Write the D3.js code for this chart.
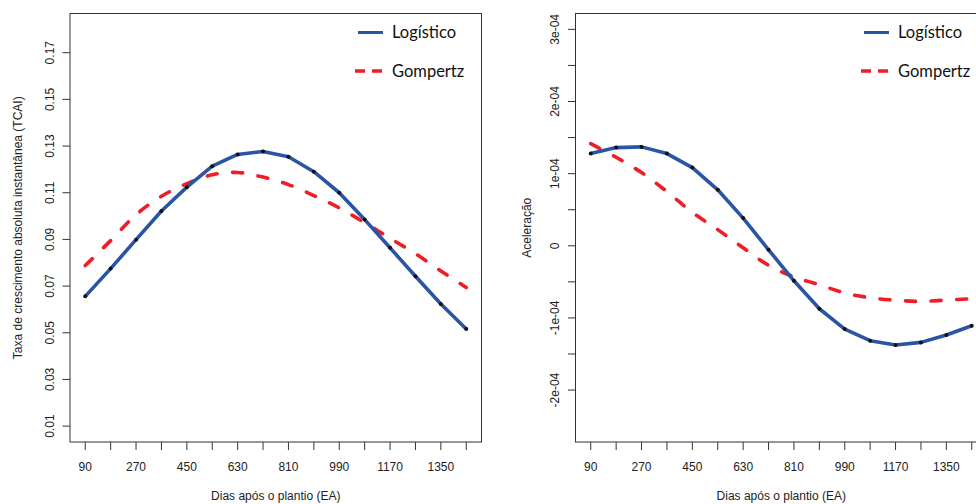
<!DOCTYPE html>
<html>
<head>
<meta charset="utf-8">
<script src="https://cdn.jsdelivr.net/npm/d3@7"></script>
<style>
  body { margin: 0; background: #fff; overflow: hidden; }
  svg { display: block; }
  .tick-label, .axis-title { font-family: "Liberation Sans", Arial, sans-serif; font-size: 12px; fill: #222; }
  .legend-label { font-family: Lato, "Open Sans", sans-serif; font-size: 16.5px; fill: #111; }
</style>
</head>
<body>
<div id="chart"></div>
<script>
// days after planting
const days = [90, 180, 270, 360, 450, 540, 630, 720, 810, 900, 990, 1080, 1170, 1260, 1350, 1440];
const xTickLabels = [90, 270, 450, 630, 810, 990, 1170, 1350];

// TCAI (left panel)
const tcaiLogistico = [0.0656, 0.0775, 0.0899, 0.1022, 0.1124, 0.1214, 0.1264, 0.1277,
                       0.1254, 0.1190, 0.1100, 0.0985, 0.0864, 0.0742, 0.0623, 0.0516];
const tcaiGompertz  = [0.0788, 0.0895, 0.1006, 0.1085, 0.1139, 0.1177, 0.1187, 0.1167,
                       0.1135, 0.1088, 0.1035, 0.0972, 0.0905, 0.0839, 0.0765, 0.0694];
const tcaiTicks = [0.01, 0.03, 0.05, 0.07, 0.09, 0.11, 0.13, 0.15, 0.17];

// acceleration (right panel), in units of 1e-4
const acelLogistico = [1.278, 1.361, 1.371, 1.278, 1.084, 0.776, 0.384, -0.055,
                       -0.485, -0.873, -1.154, -1.316, -1.376, -1.339, -1.237, -1.108];
const acelGompertz  = [1.415, 1.227, 1.015, 0.752, 0.464, 0.224, -0.028, -0.270,
                       -0.430, -0.540, -0.655, -0.720, -0.755, -0.771, -0.752, -0.734];
const acelTicks = [-2, -1.5, -1, -0.5, 0, 0.5, 1, 1.5, 2, 2.5, 3];
const acelTickLabels = {'-2': '-2e-04', '-1': '-1e-04', '0': '0', '1': '1e-04', '2': '2e-04', '3': '3e-04'};

const seriesNames = ['Logístico', 'Gompertz'];
const blue = '#2a55a5';
const red = '#ee1d27';

const width = 976, height = 504;
const svg = d3.select('#chart').append('svg')
    .attr('width', width)
    .attr('height', height);

function drawPanel(opts) {
    const left = opts.left, top = 13.5, bottom = 442, boxW = 411.5;

    const x = d3.scaleLinear().domain([36, 1494]).range([left, left + boxW]);
    const y = d3.scaleLinear().domain(opts.yDomain).range([bottom, top]);

    const g = svg.append('g');

    // box
    g.append('rect')
        .attr('x', left).attr('y', top)
        .attr('width', boxW).attr('height', bottom - top)
        .attr('fill', 'none').attr('stroke', '#333').attr('stroke-width', 1);

    // x axis ticks
    g.selectAll('.xtick').data(days).join('line')
        .attr('x1', d => x(d)).attr('x2', d => x(d))
        .attr('y1', bottom).attr('y2', bottom + 8)
        .attr('stroke', '#333');
    g.selectAll('.xlab').data(xTickLabels).join('text')
        .attr('class', 'tick-label')
        .attr('x', d => x(d)).attr('y', 471)
        .attr('text-anchor', 'middle')
        .text(d => d);
    g.append('text')
        .attr('class', 'axis-title')
        .attr('x', left + boxW / 2).attr('y', 500)
        .attr('text-anchor', 'middle')
        .text('Dias após o plantio (EA)');

    // y axis ticks
    g.selectAll('.ytick').data(opts.yTicks).join('line')
        .attr('x1', left - 7.5).attr('x2', left)
        .attr('y1', d => y(d * opts.yUnit)).attr('y2', d => y(d * opts.yUnit))
        .attr('stroke', '#333');
    g.selectAll('.ylab').data(opts.yTicks.filter(d => opts.yLabel(d) !== null)).join('text')
        .attr('class', 'tick-label')
        .attr('transform', d => `translate(${left - 16.5},${y(d * opts.yUnit)}) rotate(-90)`)
        .attr('text-anchor', 'middle')
        .text(d => opts.yLabel(d));
    g.append('text')
        .attr('class', 'axis-title')
        .attr('transform', `translate(${opts.titleX},${(top + bottom) / 2}) rotate(-90)`)
        .attr('text-anchor', 'middle')
        .text(opts.yTitle);

    // Gompertz curve (dashed)
    const gomp = days.map((d, i) => [d, opts.gompertz[i] * opts.yUnit]);
    g.append('path')
        .datum(gomp)
        .attr('fill', 'none')
        .attr('stroke', red)
        .attr('stroke-width', 3.6)
        .attr('stroke-linecap', 'round')
        .attr('stroke-dasharray', '10,15.6')
        .attr('d', d3.line().x(d => x(d[0])).y(d => y(d[1])).curve(d3.curveCatmullRom));

    // Logístico line with points
    const logi = days.map((d, i) => [d, opts.logistico[i] * opts.yUnit]);
    g.append('path')
        .datum(logi)
        .attr('fill', 'none')
        .attr('stroke', blue)
        .attr('stroke-width', 3.6)
        .attr('stroke-linejoin', 'round')
        .attr('d', d3.line().x(d => x(d[0])).y(d => y(d[1])));
    g.selectAll('.pt').data(logi).join('circle')
        .attr('cx', d => x(d[0])).attr('cy', d => y(d[1]))
        .attr('r', 2)
        .attr('fill', '#111');

    // legend
    const lx = opts.legendX;
    g.append('line')
        .attr('x1', lx).attr('x2', lx + 25)
        .attr('y1', 32.5).attr('y2', 32.5)
        .attr('stroke', blue).attr('stroke-width', 3);
    g.append('line')
        .attr('x1', lx - 3).attr('x2', lx + 25)
        .attr('y1', 71).attr('y2', 71)
        .attr('stroke', red).attr('stroke-width', 3.3)
        .attr('stroke-dasharray', '10,7');
    g.selectAll('.leg').data(seriesNames).join('text')
        .attr('class', 'legend-label')
        .attr('x', lx + 34)
        .attr('y', (d, i) => 37.5 + i * 39)
        .text(d => d);
}

drawPanel({
    left: 70,
    yDomain: [0.0032, 0.1868],
    yUnit: 1,
    yTicks: tcaiTicks,
    yLabel: d => d.toFixed(2),
    yTitle: 'Taxa de crescimento absoluta instantânea (TCAI)',
    titleX: 21.5,
    logistico: tcaiLogistico,
    gompertz: tcaiGompertz,
    legendX: 358
});

drawPanel({
    left: 575.5,
    yDomain: [-2.72e-4, 3.22e-4],
    yUnit: 1e-4,
    yTicks: acelTicks,
    yLabel: d => acelTickLabels[String(d)] !== undefined ? acelTickLabels[String(d)] : null,
    yTitle: 'Aceleração',
    titleX: 530.5,
    logistico: acelLogistico,
    gompertz: acelGompertz,
    legendX: 864
});
</script>
</body>
</html>
